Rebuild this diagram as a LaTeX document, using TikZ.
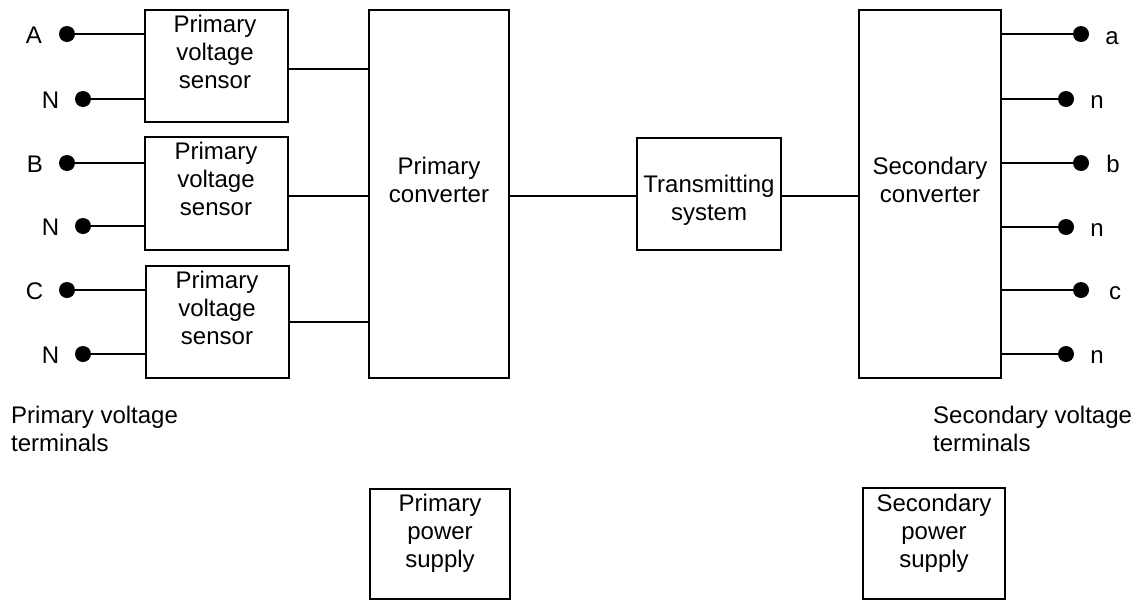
\documentclass[tikz,border=0pt]{standalone}
\usepackage{fontspec}
\setmainfont{Liberation Sans}
\begin{document}
\begin{tikzpicture}[x=1pt,y=-1pt,
  box/.style={draw,line width=1.6pt,inner sep=0pt,outer sep=0pt},
  txt/.style={inner sep=0pt,outer sep=0pt,align=center,anchor=north},
  dot/.style={circle,fill,inner sep=0pt,minimum size=16pt},
  lbl/.style={inner sep=0pt,anchor=base},
  wire/.style={line width=1.6pt}]
\useasboundingbox (0,0) rectangle (1138,600);
\fontsize{24}{28}\selectfont

% sensor, converter and transmitting blocks
\node[box,minimum width=143pt,minimum height=112pt] (s1) at (216.5,66) {};
\node[box,minimum width=143pt,minimum height=113pt] (s2) at (216.5,193.5) {};
\node[box,minimum width=143pt,minimum height=112pt] (s3) at (217.5,322) {};
\node[box,minimum width=140pt,minimum height=368pt] (pc) at (439,194) {};
\node[box,minimum width=144pt,minimum height=112pt] (tr) at (709,194) {};
\node[box,minimum width=142pt,minimum height=368pt] (sc) at (930,194) {};
\node[box,minimum width=140pt,minimum height=110pt] (pps) at (440,544) {};
\node[box,minimum width=142pt,minimum height=111pt] (sps) at (934,543.5) {};

% block captions
\node[txt] (s1t) at (215,15.5) {Primary\\voltage\\sensor};
\node[txt] (s2t) at (216,142.5) {Primary\\voltage\\sensor};
\node[txt] (s3t) at (217,271.5) {Primary\\voltage\\sensor};
\node[txt] (pct) at (439,157.5) {Primary\\converter};
\node[txt] (trt) at (709,175.5) {\fontsize{24}{25}\selectfont Transmitting\\system};
\node[txt] (sct) at (930,157.5) {Secondary\\converter};
\node[txt] (ppst) at (440,494.5) {\fontsize{24}{27}\selectfont Primary\\power\\supply};
\node[txt] (spst) at (934,494.5) {\fontsize{24}{27}\selectfont Secondary\\power\\supply};

% primary terminals
\node[dot] (tA) at (67,34) {};
\node[dot] (tN1) at (83,99) {};
\node[dot] (tB) at (67,163) {};
\node[dot] (tN2) at (83,226) {};
\node[dot] (tC) at (67,290) {};
\node[dot] (tN3) at (83,354) {};
\node[lbl] (lA) at (34,43) {A};
\node[lbl] (lN1) at (50.5,108) {N};
\node[lbl] (lB) at (35,172) {B};
\node[lbl] (lN2) at (50.5,235) {N};
\node[lbl] (lC) at (34.5,299) {C};
\node[lbl] (lN3) at (50.5,363) {N};

% secondary terminals
\node[dot] (ta) at (1081,34) {};
\node[dot] (tn1) at (1066,99) {};
\node[dot] (tb) at (1081,163) {};
\node[dot] (tn2) at (1066,227) {};
\node[dot] (tc) at (1081,290) {};
\node[dot] (tn3) at (1066,354) {};
\node[lbl] (la) at (1112,44) {a};
\node[lbl] (ln1) at (1097,108) {n};
\node[lbl] (lb) at (1113,172) {b};
\node[lbl] (ln2) at (1097,236) {n};
\node[lbl] (lc) at (1115,299) {c};
\node[lbl] (ln3) at (1097,363) {n};

% terminal group captions
\node[inner sep=0pt,anchor=north west,align=left] (pvt) at (11,405.5)
  {\fontsize{24}{29}\selectfont Primary voltage\\terminals};
\node[inner sep=0pt,anchor=north west,align=left] (svt) at (933,405.5)
  {\fontsize{24}{29}\selectfont Secondary voltage\\terminals};

% wiring: terminals to sensors
\foreach \t/\s in {tA/s1,tN1/s1,tB/s2,tN2/s2,tC/s3,tN3/s3}
  \draw[wire] (\t.center) -- (\t -| \s.west);
% wiring: secondary converter to terminals
\foreach \t in {ta,tn1,tb,tn2,tc,tn3}
  \draw[wire] (\t -| sc.east) -- (\t.center);

% sensors to primary converter
\coordinate (y1) at (0,69);
\coordinate (y2) at (0,196);
\coordinate (y3) at (0,322);
\draw[wire] (s1.east |- y1) -- (pc.west |- y1);
\draw[wire] (s2.east |- y2) -- (pc.west |- y2);
\draw[wire] (s3.east |- y3) -- (pc.west |- y3);

% converter chain
\draw[wire] (pc.east |- y2) -- (tr.west |- y2);
\draw[wire] (tr.east |- y2) -- (sc.west |- y2);
\end{tikzpicture}
\end{document}
